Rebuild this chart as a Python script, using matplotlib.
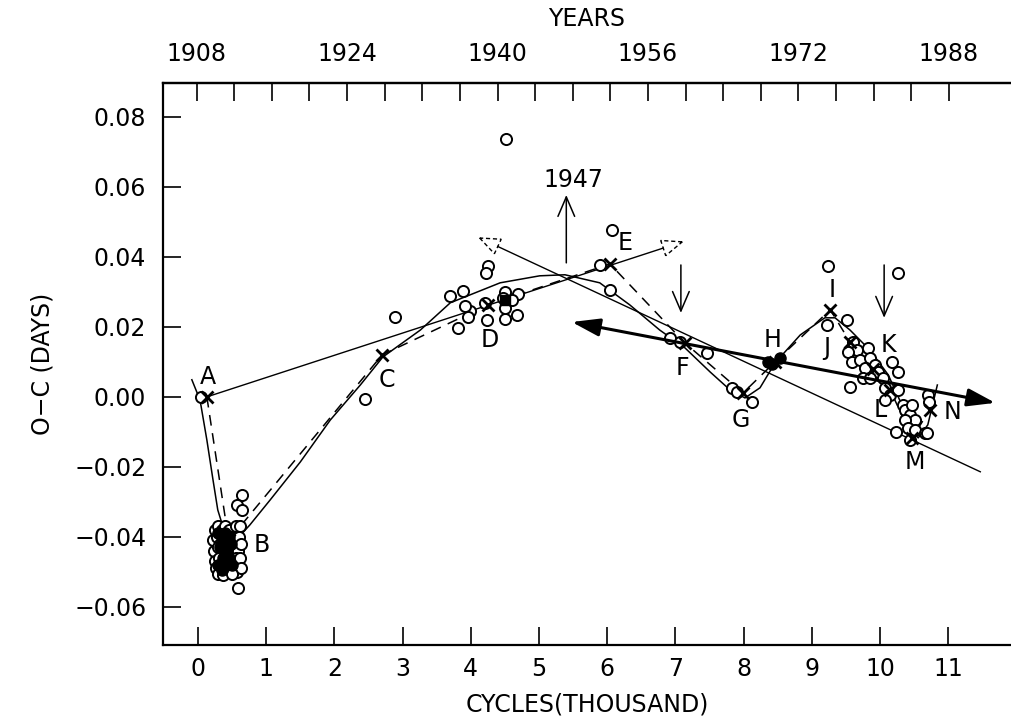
import numpy as np
import matplotlib
matplotlib.use("Agg")
import matplotlib.pyplot as plt
from matplotlib.patches import Polygon

plt.rcParams['font.family'] = ['DejaVu Sans']

# ---------------- data (cycles in thousands, O-C in days) ----------------
obs_cycles = [0.04,
              0.25, 0.30, 0.35, 0.40, 0.45, 0.55, 0.62,
              0.22, 0.28, 0.33, 0.38, 0.43, 0.48, 0.53, 0.60,
              0.24, 0.30, 0.36, 0.41, 0.46, 0.52, 0.58, 0.63,
              0.25, 0.31, 0.37, 0.42, 0.48, 0.55, 0.61,
              0.27, 0.33, 0.39, 0.45, 0.51, 0.57, 0.63,
              0.30, 0.36, 0.50,
              0.65, 0.57, 0.65, 0.59,
              2.45, 2.89,
              3.70, 3.89, 4.25, 4.22, 4.50, 4.69, 3.99, 3.96, 3.81, 4.24, 4.50,
              4.68, 4.50, 4.21, 4.47, 4.60, 3.92, 4.52,
              6.07, 5.89, 6.04,
              6.92, 7.07, 7.46, 7.83, 7.90, 8.12,
              9.24, 10.26, 9.22, 9.52,
              9.60, 9.66, 9.53, 9.59, 9.71, 9.82, 9.85, 9.78, 9.93, 9.97, 9.75, 10.04, 9.85,
              10.18, 10.26, 9.56,
              10.07, 10.15, 10.26, 10.07,
              10.34, 10.37, 10.44, 10.47, 10.51, 10.37, 10.41, 10.51, 10.23, 10.44, 10.66,
              10.70, 10.72, 10.69]
obs_oc = [0.000,
          -0.038, -0.037, -0.038, -0.037, -0.038, -0.037, -0.037,
          -0.041, -0.040, -0.042, -0.040, -0.041, -0.040, -0.041, -0.040,
          -0.044, -0.043, -0.045, -0.043, -0.044, -0.043, -0.044, -0.042,
          -0.047, -0.046, -0.048, -0.046, -0.047, -0.046, -0.046,
          -0.049, -0.050, -0.049, -0.050, -0.049, -0.050, -0.049,
          -0.0505, -0.051, -0.0505,
          -0.028, -0.0309, -0.0323, -0.0546,
          -0.0006, 0.0229,
          0.0289, 0.0303, 0.0374, 0.0354, 0.0300, 0.0294, 0.0246, 0.0229, 0.0197, 0.0220, 0.0223,
          0.0234, 0.0254, 0.0269, 0.0283, 0.0277, 0.0260, 0.0737,
          0.0477, 0.0377, 0.0306,
          0.0169, 0.0157, 0.0126, 0.0026, 0.0014, -0.0014,
          0.0374, 0.0354, 0.0206, 0.0220,
          0.0157, 0.0134, 0.0129, 0.0100, 0.0106, 0.0140, 0.0111, 0.0083, 0.0091, 0.0071, 0.0054, 0.0054, 0.0054,
          0.0100, 0.0071, 0.0029,
          0.0026, 0.0006, 0.0020, -0.0009,
          -0.0023, -0.0037, -0.0051, -0.0023, -0.0066, -0.0066, -0.0089, -0.0094, -0.0100, -0.0123, -0.0103,
          0.0006, -0.0014, -0.0103]

# filled (dense / photoelectric) points
pe_cycles = [8.36, 8.53, 8.42,
             0.30, 0.35, 0.40, 0.45, 0.33, 0.38, 0.43, 0.48, 0.36, 0.41, 0.46, 0.30, 0.40, 0.50, 0.35]
pe_oc = [0.0100, 0.0111, 0.0095,
         -0.039, -0.040, -0.039, -0.040, -0.043, -0.042, -0.043, -0.042, -0.046, -0.045, -0.046,
         -0.048, -0.048, -0.048, -0.0495]

norm_labels = ['A', 'B', 'C', 'D', 'E', 'F', 'G', 'H', 'I', 'J', 'K', 'L', 'M', 'N']
norm_cycles = [0.13, 0.45, 2.70, 4.25, 6.04, 7.14, 7.99, 8.46, 9.27, 9.56, 9.90, 10.15, 10.47, 10.73]
norm_oc = [0.000, -0.041, 0.012, 0.0263, 0.038, 0.0154, 0.0011, 0.0100, 0.0249, 0.0157, 0.0080, 0.0020, -0.0117, -0.0037]

label_cycles = [0.15, 0.94, 2.77, 4.28, 6.26, 7.11, 7.96, 8.42, 9.30, 9.22, 10.12, 10.00, 10.51, 11.06]
label_oc = [0.0057, -0.0423, 0.0049, 0.0163, 0.0440, 0.0083, -0.0066, 0.0163, 0.0306, 0.0140, 0.0149, -0.0037, -0.0186, -0.0043]

fit_cycles = [-0.09, 0.03, 0.13, 0.22, 0.29, 0.38, 0.47, 0.60, 0.76, 1.06, 1.50, 1.94, 2.38,
              2.71, 3.26, 3.70, 4.43, 5.01, 5.38, 5.89, 6.33, 6.77, 7.14, 7.51, 7.80, 8.02,
              8.24, 8.46, 8.83, 9.19, 9.34, 9.56, 9.85, 10.12, 10.32, 10.47, 10.56, 10.70, 10.84]
fit_oc = [0.0049, -0.0009, -0.0123, -0.0237, -0.0323, -0.0380, -0.0410, -0.0400, -0.0366, -0.0294,
          -0.0186, -0.0066, 0.0034, 0.0114, 0.0191, 0.0269, 0.0326, 0.0346, 0.0349, 0.0326, 0.0263,
          0.0191, 0.0140, 0.0071, 0.0020, -0.0003, 0.0026, 0.0097, 0.0177, 0.0226, 0.0226, 0.0191,
          0.0134, 0.0063, -0.0023, -0.0100, -0.0117, -0.0080, 0.0034]

# straight ephemeris lines (start, end)
ephem1_cycles = [0.13, 7.10]
ephem1_oc = [0.000, 0.0443]
ephem2_cycles = [11.47, 4.13]
ephem2_oc = [-0.0214, 0.0454]
ephem3_cycles = [5.48, 11.69]
ephem3_oc = [0.0214, -0.0017]

# vertical arrows (cycle, start, end)
arrow_cycles = [5.40, 7.08, 10.06]
arrow_start = [0.0383, 0.0377, 0.0377]
arrow_end = [0.0577, 0.0240, 0.0226]

x_ticks = list(range(0, 12))
y_ticks = [-0.06, -0.04, -0.02, 0.00, 0.02, 0.04, 0.06, 0.08]
year_ticks = list(range(1908, 1989, 4))
year_labels = [1908, 1924, 1940, 1956, 1972, 1988]

# ---------------- figure ----------------
W, H = 1011, 728
fig = plt.figure(figsize=(W / 100, H / 100), dpi=100)
ax = fig.add_axes([163 / W, (H - 645) / H, (W - 163) / W, (645 - 83) / H])
ax.set_xlim(-0.513, 11.92)
ax.set_ylim(-0.0709, 0.0897)

for s in ['left', 'bottom', 'top']:
    ax.spines[s].set_linewidth(1.6)
ax.spines['right'].set_visible(False)

ax.set_xticks(x_ticks)
ax.set_xticklabels([str(v) for v in x_ticks])
ax.set_yticks(y_ticks)
ax.set_yticklabels([('\u2212' if v < 0 else '') + f"{abs(v):.2f}" for v in y_ticks])
ax.tick_params(axis='both', direction='in', length=13, width=1.2, labelsize=17)
ax.tick_params(axis='x', pad=9)
ax.tick_params(axis='y', pad=12)

# top year axis
k = 7.253
def c2y(c):
    return 1908 + k * (np.asarray(c) + 0.0205)
def y2c(y):
    return (np.asarray(y) - 1908) / k - 0.0205
sec = ax.secondary_xaxis('top', functions=(c2y, y2c))
sec.set_xticks(year_ticks)
sec.set_xticklabels([str(y) if y in year_labels else '' for y in year_ticks])
sec.tick_params(direction='in', length=13, width=1.2, labelsize=17, pad=12)
sec.spines['top'].set_linewidth(1.6)
sec.set_xlabel('YEARS', fontsize=17, labelpad=12)

ax.set_xlabel('CYCLES(THOUSAND)', fontsize=17, labelpad=8)
ax.set_ylabel('O\u2212C (DAYS)', fontsize=17, labelpad=14)

# fit curve and normal-point polyline
ax.plot(fit_cycles, fit_oc, color='black', lw=1.1, zorder=3)
ax.plot(norm_cycles, norm_oc, color='black', lw=1.1, ls=(0, (7, 5)), zorder=3)

# observations
ax.plot(obs_cycles, obs_oc, 'o', mfc='white', mec='black', ms=8, mew=1.4, zorder=4)
ax.plot(pe_cycles, pe_oc, 'o', mfc='black', mec='black', ms=8, zorder=5)
ax.plot(norm_cycles, norm_oc, 'x', color='black', ms=9, mew=2.0, zorder=6)
ax.plot([4.50], [0.0277], 's', color='black', ms=7, zorder=6)

for lab, cx, cy in zip(norm_labels, label_cycles, label_oc):
    ax.text(cx, cy, lab, fontsize=17, ha='center', va='center', zorder=7)


def open_head_line(start, tip, length=20, width=16):
    T = ax.transData
    p0 = T.transform(start)
    p1 = T.transform(tip)
    d = (p1 - p0) / np.hypot(*(p1 - p0))
    n = np.array([-d[1], d[0]])
    base = p1 - d * length
    verts = np.array([p1, base + n * width / 2, base - n * width / 2])
    vd = T.inverted().transform(verts)
    bd = T.inverted().transform(base)
    ax.plot([start[0], bd[0]], [start[1], bd[1]], color='black', lw=1.0, zorder=3)
    ax.add_patch(Polygon(vd, closed=True, fill=False, ls=(0, (3, 2)), lw=1.0,
                         ec='black', zorder=3))


open_head_line((ephem1_cycles[0], ephem1_oc[0]), (ephem1_cycles[1], ephem1_oc[1]))
open_head_line((ephem2_cycles[0], ephem2_oc[0]), (ephem2_cycles[1], ephem2_oc[1]))

ax.annotate('', xy=(ephem3_cycles[1], ephem3_oc[1]), xytext=(ephem3_cycles[0], ephem3_oc[0]),
            arrowprops=dict(arrowstyle='<|-|>,head_length=0.85,head_width=0.27', lw=2.2,
                            color='black', shrinkA=0, shrinkB=0, mutation_scale=20), zorder=4)

for cx, y0, y1 in zip(arrow_cycles, arrow_start, arrow_end):
    ax.annotate('', xy=(cx, y1), xytext=(cx, y0),
                arrowprops=dict(arrowstyle='->,head_length=0.7,head_width=0.3', lw=1.1,
                                color='black', shrinkA=0, shrinkB=0, mutation_scale=20))

ax.text(5.50, 0.062, '1947', fontsize=17, ha='center', va='center')

fig.savefig('out.png', dpi=100)
